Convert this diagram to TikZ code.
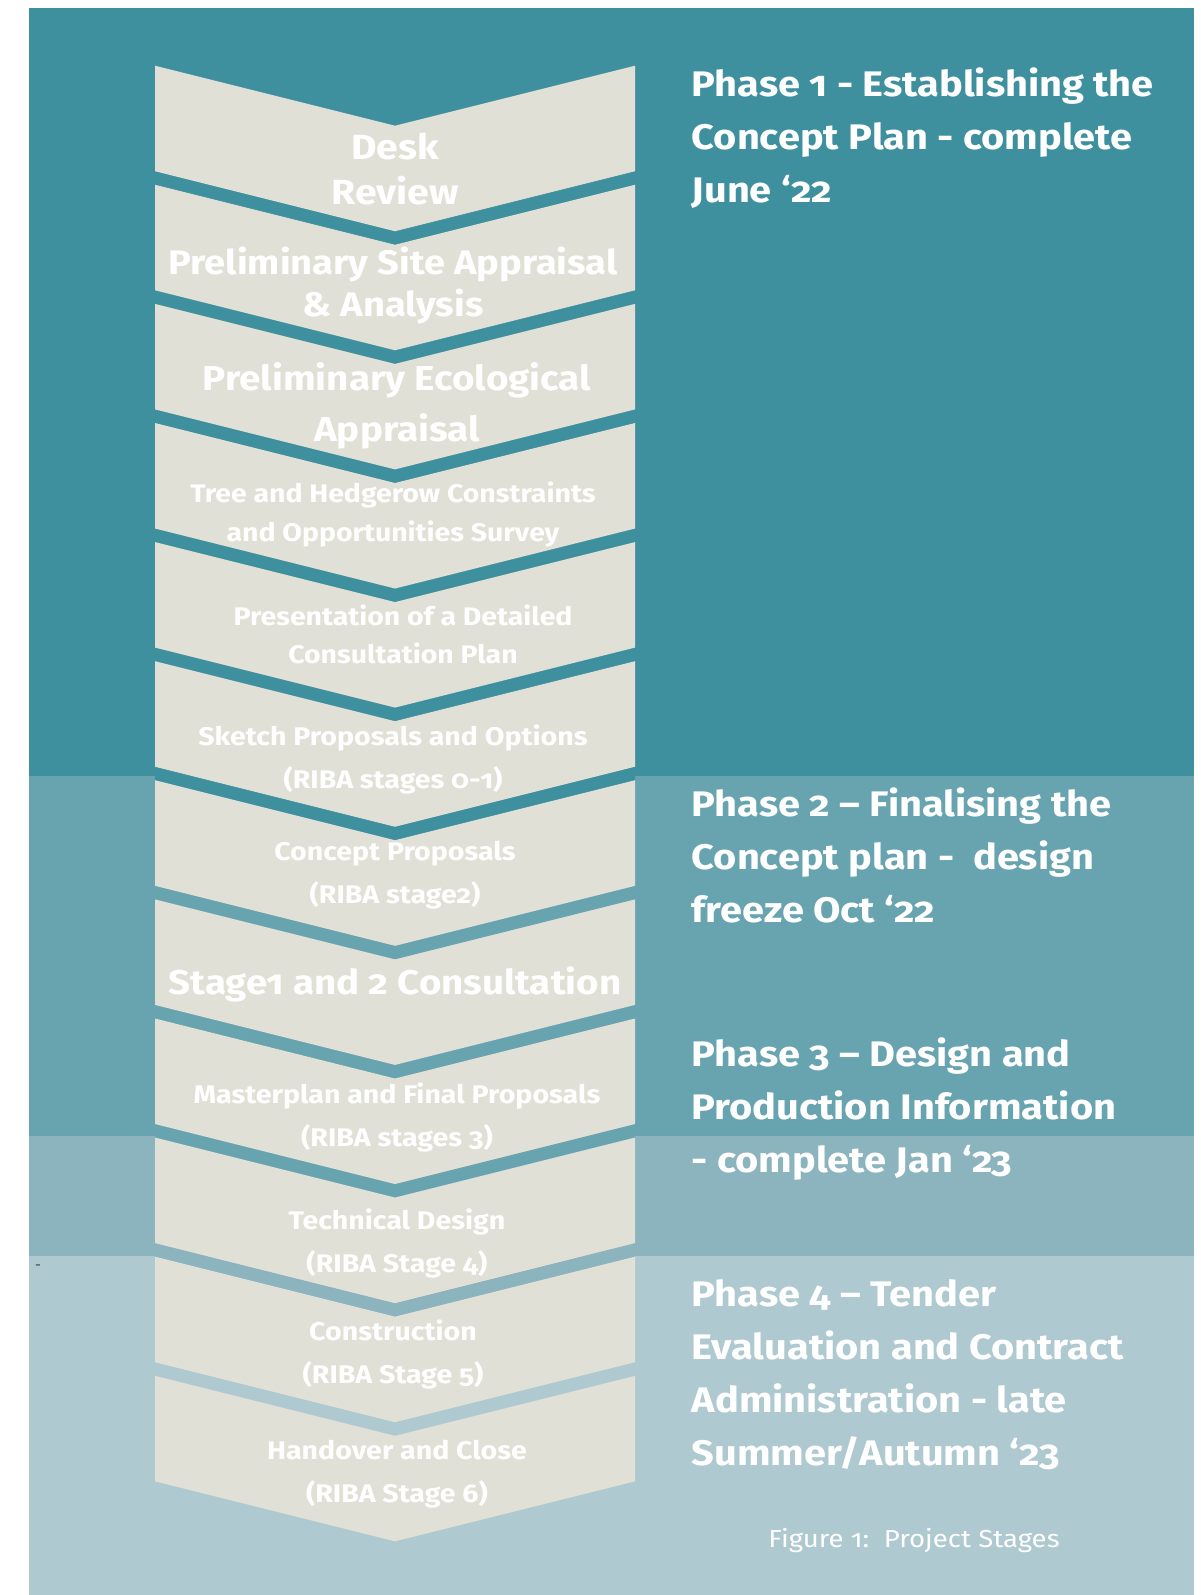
\documentclass[tikz,border=0pt]{standalone}
\usepackage{fontspec}
\setmainfont{Fira Sans}[Numbers=OldStyle,FakeStretch=1.12]
\definecolor{bandA}{RGB}{63,144,158}
\definecolor{bandB}{RGB}{103,164,176}
\definecolor{bandC}{RGB}{139,180,190}
\definecolor{bandD}{RGB}{175,201,208}
\definecolor{chevfill}{RGB}{224,224,214}
\tikzset{
  chevshape/.style={fill=chevfill},
  ctext/.style={text=white, align=center, inner sep=0pt, anchor=base},
  small/.style={font=\bfseries\fontsize{25.5}{43}\selectfont},
  ptext/.style={text=white, align=left, inner sep=0pt, anchor=base west,
    font=\bfseries\fontsize{35.5}{53}\selectfont},
}
\begin{document}
\begin{tikzpicture}[x=1pt,y=-1pt]
\useasboundingbox (0,0) rectangle (1201,1595);
\fill[white] (0,0) rectangle (1201,1595);
\fill[bandA] (29,8) rectangle (1194,776);
\fill[bandB] (29,776) rectangle (1194,1136);
\fill[bandC] (29,1136) rectangle (1194,1256);
\fill[bandD] (29,1256) rectangle (1194,1595);
% gaps between chevrons
\foreach \k/\c in {1/bandA,2/bandA,3/bandA,4/bandA,5/bandA,6/bandA,7/bandB,8/bandB,9/bandB,10/bandC,11/bandD}{
  \pgfmathsetmacro{\B}{65.7+(\k-1)*119.1+105.5}
  \pgfmathsetmacro{\T}{65.7+\k*119.1}
  \fill[\c] (155,\B) -- (395,{\B+60}) -- (635,\B) -- (635,\T) -- (395,{\T+60}) -- (155,\T) -- cycle;
}
% chevrons
\foreach \k in {1,...,12}{
  \pgfmathsetmacro{\t}{65.7+(\k-1)*119.1}
  \fill[chevshape] (155,\t) -- (395,{\t+60}) -- (635,\t) -- (635,{\t+105.5}) -- (395,{\t+165.5}) -- (155,{\t+105.5}) -- cycle;
}
% chevron texts (anchor = baseline of last line)
\node[ctext, font=\bfseries\fontsize{35}{44.7}\selectfont] (c1) at (395,204) {Desk\\Review};
\node[ctext, font=\bfseries\fontsize{34}{42.7}\selectfont] (c2) at (393,316.7) {Preliminary Site Appraisal\\\& Analysis};
\node[ctext, font=\bfseries\fontsize{34.5}{51}\selectfont] (c3) at (397,441) {Preliminary Ecological\\Appraisal};
\node[ctext, font=\bfseries\fontsize{25.4}{39}\selectfont] (c4) at (393,541.7) {Tree and Hedgerow Constraints\\and Opportunities Survey};
\node[ctext, font=\bfseries\fontsize{25.4}{38}\selectfont] (c5) at (403,663.7) {Presentation of a Detailed\\Consultation Plan};
\node[ctext, small] (c6) at (393,788) {Sketch Proposals and Options\\(RIBA stages 0-1)};
\node[ctext, small] (c7) at (395,903) {Concept Proposals\\(RIBA stage2)};
\node[ctext, font=\bfseries\fontsize{34.3}{40}\selectfont] (c8) at (395,994) {Stage1 and 2 Consultation};
\node[ctext, small] (c9) at (397,1146) {Masterplan and Final Proposals\\(RIBA stages 3)};
\node[ctext, small] (c10) at (397,1272) {Technical Design\\(RIBA Stage 4)};
\node[ctext, small] (c11) at (393,1383) {Construction\\(RIBA Stage 5)};
\node[ctext, small] (c12) at (397,1502) {Handover and Close\\(RIBA Stage 6)};
% phase texts (anchor = baseline of last line)
\node[ptext] (p1) at (691.5,202.7) {Phase 1 - Establishing the\\Concept Plan - complete\\June ‘22};
\node[ptext] (p2) at (691.5,922) {Phase 2 – Finalising the\\Concept plan - \ design\\freeze Oct ‘22};
\node[ptext] (p3) at (691.5,1172) {Phase 3 – Design and\\Production Information\\- complete Jan ‘23};
\node[ptext] (p4) at (691.5,1465) {Phase 4 – Tender\\Evaluation and Contract\\Administration - late\\Summer/Autumn ‘23};
% caption and stray mark
\node[text=white, inner sep=0pt, anchor=base, font=\fontsize{24.6}{28}\selectfont] (cap) at (914,1547) {Figure 1:\ \ Project Stages};
\node[text=black!80, inner sep=0pt, font=\fontsize{13}{14}\selectfont] (dash) at (38,1267) {-};
\end{tikzpicture}
\end{document}
